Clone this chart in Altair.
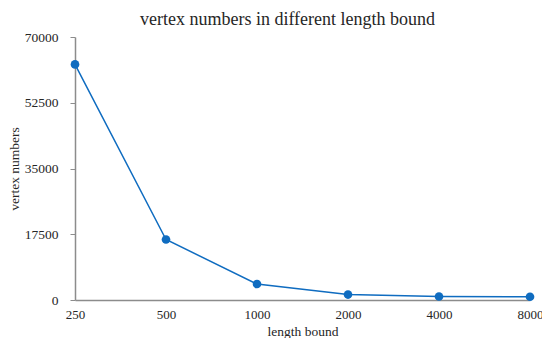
import altair as alt
import pandas as pd

bounds = ["250", "500", "1000", "2000", "4000", "8000"]
vertices = [62700, 16100, 4250, 1450, 920, 870]
y_ticks = [0, 17500, 35000, 52500, 70000]

df = pd.DataFrame({"bound": bounds, "vertices": vertices})

FONT = "Liberation Serif"
BLUE = "#0f6cc0"
GREY = "#8c8c8c"
TXT = "#262626"

x = alt.X(
    "bound:O",
    sort=bounds,
    scale=alt.Scale(type="point", padding=0),
    axis=alt.Axis(
        title="length bound", labelAngle=0, ticks=False, labelPadding=8,
        domainColor=GREY, domainWidth=1.5, labelFont=FONT, labelFontSize=13,
        labelColor=TXT, titleFont=FONT, titleFontSize=13.5, titleFontWeight="normal",
        titleColor=TXT, titlePadding=3,
    ),
)
y = alt.Y(
    "vertices:Q",
    scale=alt.Scale(domain=[0, 70000], nice=False),
    axis=alt.Axis(
        title="vertex numbers", values=y_ticks, format="d", grid=False,
        tickSize=5, tickColor=GREY, domainColor=GREY, domainWidth=1.5,
        labelPadding=12, labelFont=FONT, labelFontSize=13.5, labelColor=TXT,
        titleFont=FONT, titleFontSize=13.5, titleFontWeight="normal",
        titleColor=TXT, titlePadding=3,
    ),
)

base = alt.Chart(df).encode(x=x, y=y)
line = base.mark_line(color=BLUE, strokeWidth=1.5)
pts = base.mark_circle(color=BLUE, size=75, opacity=1)

chart = (
    alt.layer(line, pts)
    .properties(
        width=455,
        height=263,
        autosize=alt.AutoSizeParams(type="none"),
        padding={"left": 67, "top": 29, "right": 12, "bottom": 38},
        title=alt.TitleParams(
            "vertex numbers in different length bound",
            font=FONT, fontSize=18, fontWeight="normal", color=TXT,
            anchor="middle", dx=-15, offset=1,
        ),
    )
    .configure_view(stroke=None)
)

chart.save("out.html", embed_options={"renderer": "svg", "actions": False})
